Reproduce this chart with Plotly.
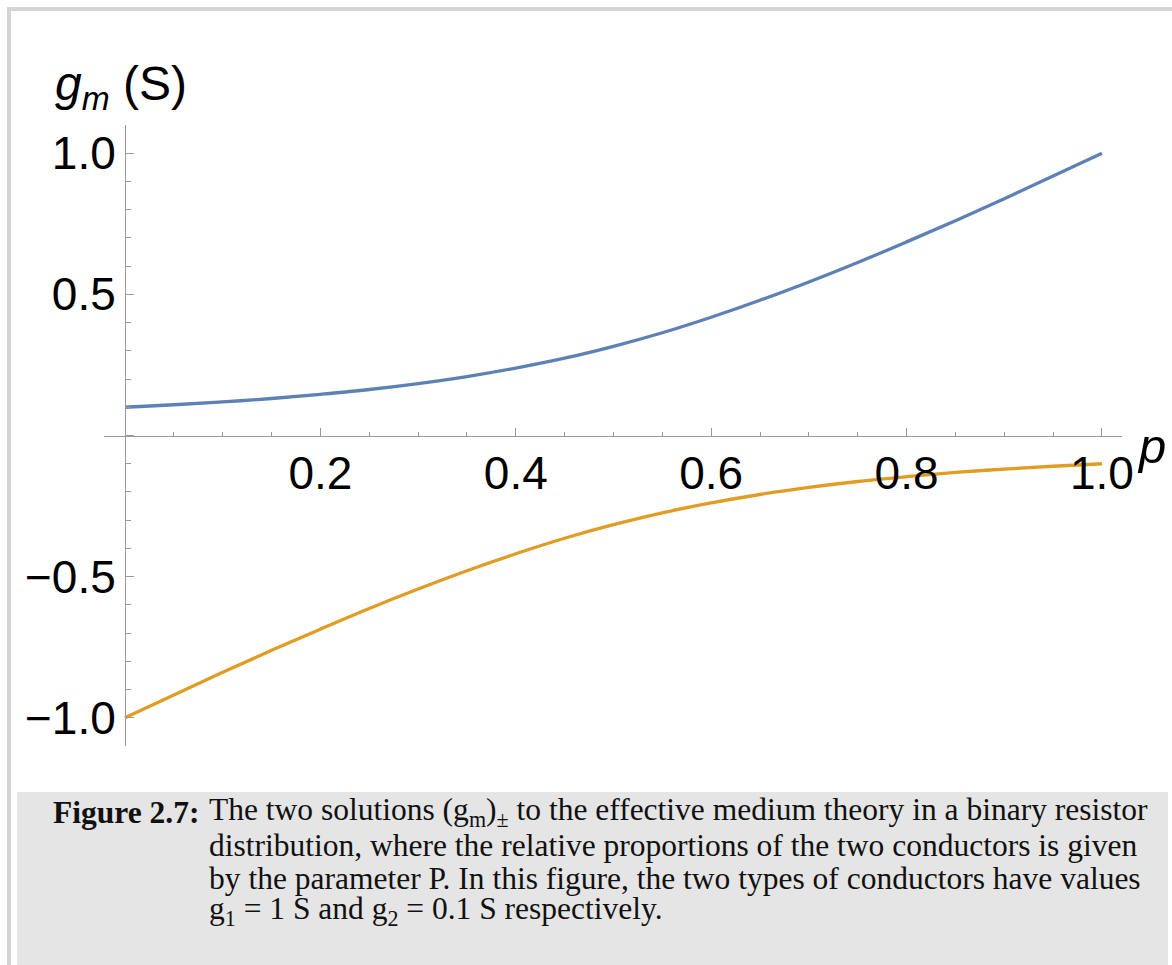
import plotly.graph_objects as go

# ---- data ----
p_vals = [0.00, 0.05, 0.10, 0.15, 0.20, 0.25, 0.30, 0.35, 0.40, 0.45, 0.50,
          0.55, 0.60, 0.65, 0.70, 0.75, 0.80, 0.85, 0.90, 0.95, 1.00]
g_plus = [0.100, 0.109, 0.119, 0.131, 0.146, 0.163, 0.184, 0.209, 0.239, 0.274, 0.316,
          0.364, 0.419, 0.479, 0.544, 0.613, 0.686, 0.761, 0.839, 0.919, 1.000]
g_minus = [-1.000, -0.919, -0.839, -0.761, -0.686, -0.613, -0.544, -0.479, -0.419, -0.364, -0.316,
           -0.274, -0.239, -0.209, -0.184, -0.163, -0.146, -0.131, -0.119, -0.109, -0.100]

x_tickvals = [0.2, 0.4, 0.6, 0.8, 1.0]
x_ticktext = ["0.2", "0.4", "0.6", "0.8", "1.0"]
y_tickvals = [-1.0, -0.5, 0.0, 0.5, 1.0]
y_ticktext = ["\u22121.0", "\u22120.5", "", "0.5", "1.0"]

caption_lines = [
    "The two solutions (g<sub>m</sub>)<sub>\u00b1</sub> to the effective medium theory in a binary resistor",
    "distribution, where the relative proportions of the two conductors is given",
    "by the parameter P. In this figure, the two types of conductors have values",
    "g<sub>1</sub> = 1 S and g<sub>2</sub> = 0.1 S respectively.",
]

W, H = 1172, 965
BLUE = "#5E81B5"
ORANGE = "#E19C24"
AXIS = "#999999"

def fx(px):
    return px / W

def fy(py):
    return 1 - py / H

fig = go.Figure()
fig.add_trace(go.Scatter(x=p_vals, y=g_plus, mode="lines", line=dict(color=BLUE, width=3.3, shape="spline"),
                         showlegend=False, hoverinfo="skip"))
fig.add_trace(go.Scatter(x=p_vals, y=g_minus, mode="lines", line=dict(color=ORANGE, width=3.3, shape="spline"),
                         showlegend=False, hoverinfo="skip"))

tickfont = dict(family="Liberation Sans, Arial, sans-serif", size=46, color="black")

fig.update_layout(
    width=W, height=H, autosize=False,
    margin=dict(l=0, r=0, t=0, b=0, autoexpand=False),
    paper_bgcolor="white", plot_bgcolor="rgba(0,0,0,0)",
    xaxis=dict(
        domain=[fx(104), fx(1122)], range=[-0.0215, 1.0205],
        anchor="free", position=fy(435.5),
        showline=True, linecolor=AXIS, linewidth=1,
        showgrid=False, zeroline=False,
        tickmode="array", tickvals=x_tickvals, ticktext=x_ticktext,
        ticks="inside", ticklen=8, tickcolor=AXIS, tickwidth=1,
        minor=dict(tickmode="linear", tick0=0, dtick=0.05, ticks="inside", ticklen=4,
                   tickcolor=AXIS, tickwidth=1, showgrid=False),
        tickfont=tickfont, ticklabelstandoff=-3,
    ),
    yaxis=dict(
        domain=[fy(746), fy(125)], range=[-1.1, 1.1],
        anchor="free", position=fx(125),
        showline=True, linecolor=AXIS, linewidth=1,
        showgrid=False, zeroline=False,
        tickmode="array", tickvals=y_tickvals, ticktext=y_ticktext,
        ticks="inside", ticklen=8, tickcolor=AXIS, tickwidth=1,
        minor=dict(tickmode="linear", tick0=0, dtick=0.1, ticks="inside", ticklen=5,
                   tickcolor=AXIS, tickwidth=1, showgrid=False),
        tickfont=tickfont, ticklabelstandoff=0,
    ),
)

shapes = [
    # outer light-gray frame strips
    dict(type="rect", xref="paper", yref="paper", x0=fx(7), x1=fx(1172), y0=fy(11), y1=fy(7),
         fillcolor="#d4d4d4", line=dict(width=0), layer="below"),
    dict(type="rect", xref="paper", yref="paper", x0=fx(7), x1=fx(11), y0=fy(965), y1=fy(7),
         fillcolor="#d4d4d4", line=dict(width=0), layer="below"),
    # caption box
    dict(type="rect", xref="paper", yref="paper", x0=fx(17), x1=fx(1168), y0=fy(965), y1=fy(792),
         fillcolor="#e5e5e5", line=dict(width=0), layer="below"),
]
fig.update_layout(shapes=shapes)

ann = []
# y-axis label
ann.append(dict(xref="paper", yref="paper", x=fx(53), y=fy(119), xanchor="left", yanchor="bottom",
                text="<i>g</i><sub><i>m</i></sub> (S)", showarrow=False,
                font=dict(family="Liberation Sans, Arial, sans-serif", size=48, color="black")))
# x-axis label
ann.append(dict(xref="paper", yref="paper", x=fx(1135), y=fy(446), xanchor="left", yanchor="middle",
                text="<i>p</i>", showarrow=False,
                font=dict(family="Liberation Sans, Arial, sans-serif", size=49, color="black")))

capfont = dict(family="Liberation Serif, Times New Roman, serif", size=31.5, color="#111111")
line_centers = [812, 845, 878, 911]
ann.append(dict(xref="paper", yref="paper", x=fx(201), y=fy(line_centers[0]), xanchor="right", yanchor="middle",
                text="<b>Figure 2.7:</b>", showarrow=False, font=capfont))
for txt, yc in zip(caption_lines, line_centers):
    ann.append(dict(xref="paper", yref="paper", x=fx(207), y=fy(yc), xanchor="left", yanchor="middle",
                    text=txt, showarrow=False, font=capfont))
fig.update_layout(annotations=ann)

fig.write_html(
    "out.html",
    config={"responsive": False},
    post_script="document.documentElement.style.overflow='hidden';"
                "document.body.style.overflow='hidden';document.body.style.margin='0';",
)
